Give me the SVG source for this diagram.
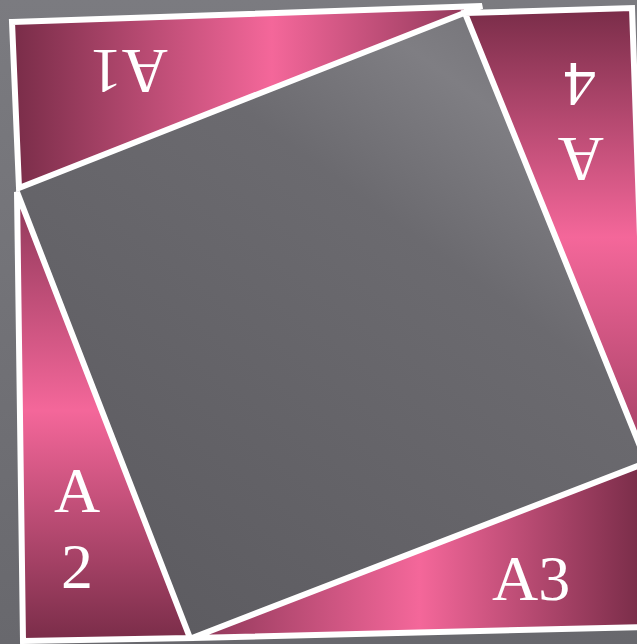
<svg xmlns="http://www.w3.org/2000/svg" width="637" height="644" viewBox="0 0 637 644">
  <defs>
    <linearGradient id="bg" x1="0" y1="0" x2="0" y2="644" gradientUnits="userSpaceOnUse">
      <stop offset="0" stop-color="#7b7b80"/>
      <stop offset="1" stop-color="#68686d"/>
    </linearGradient>
    <linearGradient id="inner" x1="560" y1="20" x2="120" y2="620" gradientUnits="userSpaceOnUse">
      <stop offset="0" stop-color="#727176"/>
      <stop offset="0.15" stop-color="#7f7e83"/>
      <stop offset="0.35" stop-color="#6b6a6f"/>
      <stop offset="1" stop-color="#5c5b60"/>
    </linearGradient>
    <linearGradient id="gTop" x1="15" y1="0" x2="482" y2="0" gradientUnits="userSpaceOnUse">
      <stop offset="0" stop-color="#7a2d49"/>
      <stop offset="0.55" stop-color="#f4679a"/>
      <stop offset="1" stop-color="#8c3657"/>
    </linearGradient>
    <linearGradient id="gRight" x1="0" y1="10" x2="0" y2="465" gradientUnits="userSpaceOnUse">
      <stop offset="0" stop-color="#7a2d49"/>
      <stop offset="0.5" stop-color="#f4679a"/>
      <stop offset="1" stop-color="#a03e62"/>
    </linearGradient>
    <linearGradient id="gLeft" x1="0" y1="190" x2="0" y2="640" gradientUnits="userSpaceOnUse">
      <stop offset="0" stop-color="#8c3657"/>
      <stop offset="0.49" stop-color="#f4679a"/>
      <stop offset="1" stop-color="#7a2d49"/>
    </linearGradient>
    <linearGradient id="gBottom" x1="190" y1="0" x2="640" y2="0" gradientUnits="userSpaceOnUse">
      <stop offset="0" stop-color="#8c3657"/>
      <stop offset="0.51" stop-color="#f4679a"/>
      <stop offset="1" stop-color="#7a2d49"/>
    </linearGradient>
  </defs>
  <style>
    .tri { stroke: #ffffff; stroke-width: 6; stroke-linejoin: miter; }
    .lbl { font-family: "Liberation Serif", "Times New Roman", serif; font-size: 64px; fill: #ffffff; }
  </style>
  <rect x="0" y="0" width="637" height="644" fill="url(#bg)"/>
  <g id="inner-square">
    <polygon points="19,188 482,6 648,464 190,637" fill="url(#inner)"/>
  </g>
  <g id="A1">
    <polygon class="tri" points="12,22 482,6 19,188" fill="url(#gTop)"/>
    <text class="lbl" text-anchor="middle" transform="translate(129,50) rotate(180)">A1</text>
  </g>
  <g id="A4">
    <polygon class="tri" points="465,13 632,8 648,466" fill="url(#gRight)"/>
    <text class="lbl" text-anchor="middle" transform="translate(580,63) rotate(180)">4</text>
    <text class="lbl" text-anchor="middle" transform="translate(581,138) rotate(180)">A</text>
  </g>
  <g id="A2">
    <polygon class="tri" points="17,192 23,641 190,638" fill="url(#gLeft)"/>
    <text class="lbl" text-anchor="middle" x="77" y="512">A</text>
    <text class="lbl" text-anchor="middle" x="77" y="588">2</text>
  </g>
  <g id="A3">
    <polygon class="tri" points="192,638 648,462 645,627" fill="url(#gBottom)"/>
    <text class="lbl" x="492" y="600">A3</text>
  </g>
</svg>
